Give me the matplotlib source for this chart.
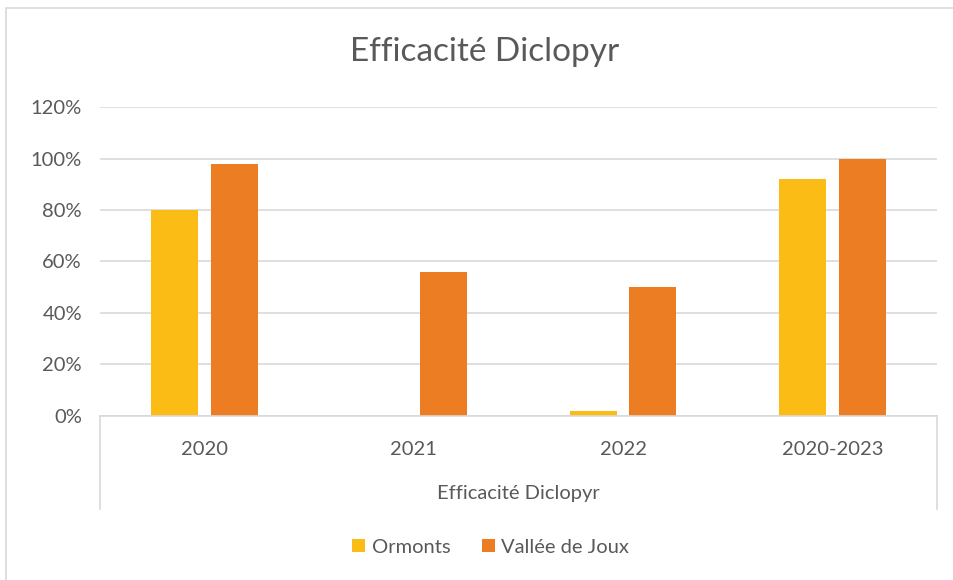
import numpy as np
import matplotlib.pyplot as plt
from matplotlib.lines import Line2D
from matplotlib.patches import Rectangle
from matplotlib.ticker import FuncFormatter

plt.rcParams['font.family'] = ['Lato', 'DejaVu Sans']

categories = ['2020', '2021', '2022', '2020-2023']
ormonts = [80, 0, 2, 92]
vallee_de_joux = [98, 56, 50, 100]
group_label = 'Efficacité Diclopyr'

GRAY = '#595959'
GRID = '#d9d9d9'

fig = plt.figure(figsize=(9.54, 5.80), dpi=100)
ax = fig.add_axes([0.1048, 0.2828, 0.8774, 0.5327])

x = np.arange(len(categories))
w = 0.224
off = 0.142
ax.bar(x - off, ormonts, w, color='#fbbc16', label='Ormonts', zorder=3)
ax.bar(x + off, vallee_de_joux, w, color='#ed7d22', label='Vallée de Joux', zorder=3)

ax.set_xlim(-0.5, len(categories) - 0.5)
ax.set_ylim(0, 120)
ax.set_yticks(np.arange(0, 121, 20))
ax.yaxis.set_major_formatter(FuncFormatter(lambda v, p: f'{v:.0f}%'))
ax.grid(axis='y', color=GRID, linewidth=1.2, zorder=0)
for s in ax.spines.values():
    s.set_visible(False)
ax.tick_params(axis='y', length=0, labelsize=14.5, labelcolor=GRAY, pad=13)
ax.set_xticks(x)
ax.set_xticklabels(categories)
ax.tick_params(axis='x', length=0, labelsize=14.5, labelcolor=GRAY, pad=18)

# multi-level category axis
for xa in (0, 1):
    ax.add_line(Line2D([xa, xa], [0, -0.30], transform=ax.transAxes,
                       color=GRID, linewidth=1.2, clip_on=False))
ax.add_line(Line2D([0, 1], [0, 0], transform=ax.transAxes,
                   color=GRID, linewidth=1.2, clip_on=False, zorder=4))
ax.text(0.5, -0.25, group_label, transform=ax.transAxes, ha='center',
        va='center', fontsize=14.5, color=GRAY)

fig.text(0.508, 0.91, 'Efficacité Diclopyr', ha='center', va='center',
         fontsize=24, color=GRAY)

ax.legend(loc='center', bbox_to_anchor=(0.467, -0.425), ncol=2, frameon=False,
          fontsize=14.5, labelcolor=GRAY, handlelength=0.65, handleheight=0.65,
          handletextpad=0.3, columnspacing=1.6)

fig.add_artist(Rectangle((0.0068, -0.1), 1.1, 1.086, transform=fig.transFigure,
                         fill=False, edgecolor=GRID, linewidth=1.2))

fig.savefig('out.png', dpi=100)
